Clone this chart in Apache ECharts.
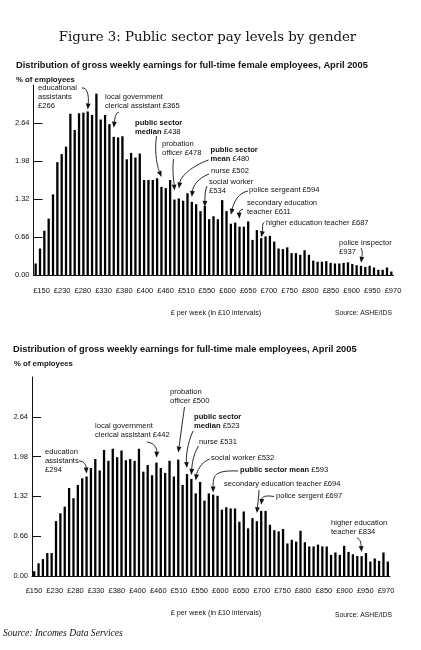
<!DOCTYPE html>
<html><head><meta charset="utf-8">
<script src="https://cdn.jsdelivr.net/npm/echarts@6/dist/echarts.min.js"></script>
<style>html,body{margin:0;padding:0;background:#fff}#c{width:421px;height:650px}</style>
</head><body><div id="c"></div>
<script>
// ---------- DATA ----------
const payBands = [150,160,170,180,190,200,210,220,230,240,250,260,270,280,290,300,310,320,330,340,
  350,360,370,380,390,400,410,420,430,440,450,460,470,480,490,500,510,520,530,540,
  550,560,570,580,590,600,610,620,630,640,650,660,670,680,690,700,710,720,730,740,
  750,760,770,780,790,800,810,820,830,840,850,860,870,880,890,900,910,920,930,940,
  950,960,970];
const femaleValues = [0.20,0.46,0.77,0.98,1.40,1.96,2.10,2.23,2.80,2.52,
  2.81,2.82,2.84,2.78,3.15,2.70,2.78,2.62,2.40,2.39,
  2.41,2.01,2.12,2.04,2.11,1.65,1.65,1.65,1.68,1.53,
  1.51,1.65,1.31,1.33,1.29,1.42,1.27,1.23,1.11,1.20,
  0.97,1.02,0.97,1.30,1.11,0.89,0.91,0.84,0.84,0.93,
  0.61,0.78,0.64,0.67,0.68,0.58,0.46,0.45,0.48,0.38,
  0.38,0.35,0.43,0.35,0.25,0.23,0.23,0.24,0.21,0.20,
  0.20,0.21,0.22,0.19,0.17,0.16,0.14,0.16,0.13,0.09,
  0.09,0.13,0.06];
const maleValues = [0.08,0.21,0.28,0.38,0.38,0.91,1.04,1.15,1.46,1.29,
  1.51,1.62,1.65,1.79,1.94,1.75,2.09,1.91,2.11,1.97,
  2.08,1.92,1.94,1.91,2.11,1.73,1.84,1.67,1.88,1.79,
  1.71,1.91,1.65,1.93,1.51,1.69,1.61,1.37,1.56,1.25,
  1.37,1.35,1.33,1.10,1.14,1.12,1.12,0.90,1.07,0.79,
  0.96,0.91,1.08,1.08,0.85,0.76,0.74,0.78,0.54,0.60,
  0.57,0.75,0.56,0.49,0.49,0.52,0.49,0.49,0.35,0.39,
  0.35,0.50,0.40,0.36,0.33,0.33,0.38,0.24,0.29,0.25,
  0.39,0.24];
const maleBands = payBands.slice(0, maleValues.length);
const tickLabels = ['£150','£230','£280','£330','£380','£400','£460','£510','£550','£600',
  '£650','£700','£750','£800','£850','£900','£950','£970'];
const yTickValues = [0, 0.66, 1.32, 1.98, 2.64];

const femaleNotes = [
  {text:'educational\nassistants\n£266', bar:12},
  {text:'local government\nclerical assistant £365', bar:18},
  {text:'{b|public sector}\n{b|median} £438', bar:29},
  {text:'probation\nofficer £478', bar:32},
  {text:'{b|public sector}\n{b|mean} £480', bar:33},
  {text:'nurse £502', bar:36},
  {text:'social worker\n£534', bar:39},
  {text:'police sergeant £594', bar:45},
  {text:'secondary education\nteacher £611', bar:47},
  {text:'higher education teacher £687', bar:52},
  {text:'police inspector\n£937', bar:75}
];
const maleNotes = [
  {text:'education\nassistants\n£294', bar:12},
  {text:'local government\nclerical assistant £442', bar:28},
  {text:'probation\nofficer £500', bar:33},
  {text:'{b|public sector}\n{b|median} £523', bar:35},
  {text:'nurse £531', bar:36},
  {text:'social worker £532', bar:37},
  {text:'{b|public sector mean} £593', bar:41},
  {text:'secondary education teacher £694', bar:51},
  {text:'police sergent £697', bar:52},
  {text:'higher education\nteacher £834', bar:75}
];

// ---------- LAYOUT ----------
const femaleNoteLayout = [
  {x:38, y:83.5, from:[82,88], c1:[87,87], c2:[89,95], gap:2},
  {x:105, y:92.5, from:[119,112], c1:[116,113], c2:[115,116], gap:9},
  {x:135, y:118.5, from:[156.5,136], c1:[154,155], c2:[158,168], gap:10},
  {x:162, y:140, from:[173.5,159], c1:[172,172], c2:[174,182], gap:9},
  {x:210.5, y:146, from:[208.5,160], c1:[192,166], c2:[181,176], gap:10},
  {x:211, y:167, from:[209,174], c1:[198,178], c2:[193,186], gap:5},
  {x:209, y:177.5, from:[207,186], c1:[205,190], c2:[205,196], gap:-1},
  {x:249, y:186, from:[248,191], c1:[238,193], c2:[234,202], gap:9},
  {x:247, y:199, from:[243,209], c1:[240,210], c2:[239,212], gap:8},
  {x:266, y:219, from:[264.5,222], c1:[261.5,224], c2:[263,229], gap:1},
  {x:339, y:238.5, from:[361,248], c1:[363,252], c2:[362,256], gap:3}
];
const maleNoteLayout = [
  {x:45, y:448, from:[79,461], c1:[85,461], c2:[86,466], gap:3},
  {x:95, y:421.5, from:[147,442], c1:[155,443], c2:[157,449], gap:5},
  {x:170, y:387.5, from:[184.5,407], c1:[182,425], c2:[180,440], gap:7},
  {x:194, y:413, from:[193,431], c1:[187,444], c2:[186,458], gap:6},
  {x:199, y:437.5, from:[198.5,446], c1:[193,455], c2:[192,465], gap:4},
  {x:211, y:453.5, from:[209.5,459], c1:[200,463], c2:[197,472], gap:13},
  {x:240, y:466, from:[238,471], c1:[214,470], c2:[213,476], gap:2},
  {x:224, y:480, from:[259,490], c1:[259,495], c2:[258,502], gap:8},
  {x:276, y:492, from:[274,496.5], c1:[265,495], c2:[262,497], gap:6},
  {x:331, y:518.5, from:[357,538], c1:[361,539], c2:[361,545], gap:4}
];

const INK = '#111';
const SANS = '"Liberation Sans", Arial, sans-serif';
const SERIF = '"DejaVu Serif", "Liberation Serif", serif';

function valueAxis(grid, pad) {
  return {type:'value', gridIndex:grid, min:0, max:3.3, interval:0.66,
    axisLine:{show:true, lineStyle:{color:INK, width:1}},
    axisTick:{show:true, inside:true, length:9, customValues: yTickValues.slice(1), lineStyle:{color:INK, width:1}},
    axisLabel:{show:true, customValues: yTickValues, margin:4, padding:pad,
      formatter: v => (Math.abs(v - 3.3) < 1e-6 ? '' : v.toFixed(2)),
      color:INK, fontFamily:SANS, fontSize:7.5},
    splitLine:{show:false}};
}
function hiddenY(grid) { return {type:'value', gridIndex:grid, show:false, min:0, max:1}; }
function barAxis(grid, data) {
  return {type:'category', gridIndex:grid, data:data.map(v => '£' + v), boundaryGap:true,
    axisLine:{show:true, onZero:false, lineStyle:{color:INK, width:1}},
    axisTick:{show:false}, axisLabel:{show:false}, splitLine:{show:false}};
}
function labelAxis(grid, margin) {
  return {type:'category', gridIndex:grid, data:tickLabels, boundaryGap:false,
    axisLine:{show:false}, axisTick:{show:false}, splitLine:{show:false},
    axisLabel:{interval:0, margin:margin, color:INK, fontFamily:SANS, fontSize:7.5}};
}

const chart = echarts.init(document.getElementById('c'), null, {renderer:'canvas'});
chart.setOption({
  animation:false,
  backgroundColor:'#ffffff',
  grid:[
    {left:33.5, top:85, width:360, height:190},
    {left:41.5, top:85, width:351.5, height:190},
    {left:32, top:377, width:358, height:199},
    {left:34, top:377, width:352, height:199}
  ],
  xAxis:[barAxis(0, payBands), labelAxis(1, 12), barAxis(2, maleBands), labelAxis(3, 11)],
  yAxis:[valueAxis(0, [8,0,0,0]), hiddenY(1), valueAxis(2, [0,0,14,0]), hiddenY(3)],
  series:[
    {type:'bar', xAxisIndex:0, yAxisIndex:0, data:femaleValues, barWidth:2.3, itemStyle:{color:'#000'}, silent:true},
    {type:'bar', xAxisIndex:2, yAxisIndex:2, data:maleValues, barWidth:2.3, itemStyle:{color:'#000'}, silent:true}
  ]
});

function txt(text, x, y, opts) {
  const o = opts || {};
  return {type:'text', x:x, y:y, silent:true, style:Object.assign({
    text:text, fill:INK, font: o.font || ('7px ' + SANS),
    align:o.align || 'left', textAlign:o.align || 'left',
    verticalAlign:o.va || 'middle', textVerticalAlign:o.va || 'middle'
  }, o.extra || {})};
}

const graphics = [
  txt('Figure 3: Public sector pay levels by gender', 207.5, 37.5, {font:'500 13.3px ' + SERIF, align:'center'}),
  txt('Distribution of gross weekly earnings for full-time female employees, April 2005', 16, 65, {font:'bold 9.3px ' + SANS}),
  txt('% of employees', 16, 80, {font:'bold 7.8px ' + SANS}),
  txt('£ per week (in £10 intervals)', 216, 313, {font:'7.2px ' + SANS, align:'center'}),
  txt('Source: ASHE/IDS', 392, 313.5, {font:'6.8px ' + SANS, align:'right'}),
  txt('Distribution of gross weekly earnings for full-time male employees, April 2005', 13, 349, {font:'bold 9.3px ' + SANS}),
  txt('% of employees', 14, 363.5, {font:'bold 7.8px ' + SANS}),
  txt('£ per week (in £10 intervals)', 216, 613.5, {font:'7.2px ' + SANS, align:'center'}),
  txt('Source: ASHE/IDS', 392, 615.5, {font:'6.8px ' + SANS, align:'right'}),
  txt('Source: Incomes Data Services', 3, 633.5, {font:'italic 9.6px "Liberation Serif", serif'})
];

function addNotes(seriesIndex, values, notes, layout) {
  notes.forEach((n, i) => {
    const L = layout[i];
    graphics.push({type:'text', x:L.x, y:L.y, silent:true, style:{
      text:n.text, fill:INK, font:'7.6px ' + SANS, lineHeight:8.8,
      align:'left', textAlign:'left', verticalAlign:'top', textVerticalAlign:'top',
      rich:{b:{fontWeight:'bold', fontFamily:SANS, fontSize:7.6, lineHeight:8.8, fill:INK}}
    }});
    const p = chart.convertToPixel({seriesIndex:seriesIndex}, [n.bar, values[n.bar]]);
    const tip = [p[0], p[1] - L.gap];
    let dx = tip[0] - L.c2[0], dy = tip[1] - L.c2[1];
    let len = Math.hypot(dx, dy);
    if (len < 0.5) { dx = 0; dy = 1; len = 1; }
    dx /= len; dy /= len;
    const head = 6, hw = 2.4;
    const end = [tip[0] - dx * head, tip[1] - dy * head];
    graphics.push({type:'bezierCurve', silent:true, shape:{
      x1:L.from[0], y1:L.from[1], cpx1:L.c1[0], cpy1:L.c1[1], cpx2:L.c2[0], cpy2:L.c2[1], x2:end[0], y2:end[1]},
      style:{stroke:INK, lineWidth:0.9, fill:null}});
    graphics.push({type:'polygon', silent:true, shape:{points:[
      tip, [end[0] - dy * hw, end[1] + dx * hw], [end[0] + dy * hw, end[1] - dx * hw]]},
      style:{fill:INK}});
  });
}
addNotes(0, femaleValues, femaleNotes, femaleNoteLayout);
addNotes(1, maleValues, maleNotes, maleNoteLayout);

chart.setOption({graphic:graphics});
</script></body></html>
